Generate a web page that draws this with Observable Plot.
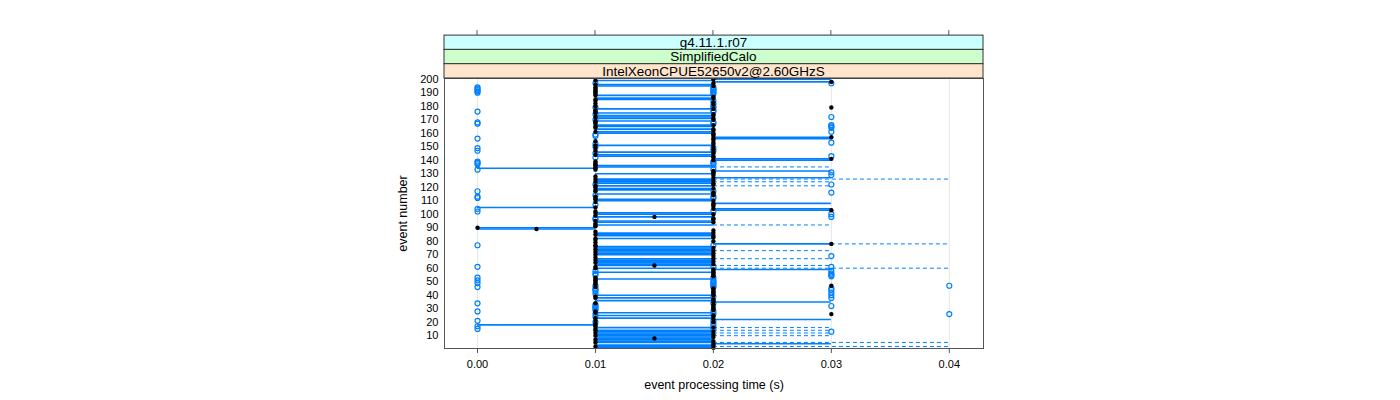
<!DOCTYPE html>
<html><head><meta charset="utf-8">
<script src="https://cdn.jsdelivr.net/npm/d3@7"></script>
<script src="https://cdn.jsdelivr.net/npm/@observablehq/plot@0.6"></script>
<style>body{margin:0;background:#fff} svg{font-family:"Liberation Sans",Arial,sans-serif}</style>
</head><body><div id="chart"></div>
<script>
// ---- labels / ticks
const stripLabels = ["g4.11.1.r07", "SimplifiedCalo", "IntelXeonCPUE52650v2@2.60GHzS"];
const stripColors = ["#ccffff", "#ccffcc", "#ffe5cc"];
const xTicks = [0, 0.01, 0.02, 0.03, 0.04];
const yTicks = [10, 20, 30, 40, 50, 60, 70, 80, 90, 100, 110, 120, 130, 140, 150, 160, 170, 180, 190, 200];
const eventCount = 200;

// ---- boxes (event numbers whose box spans the given interval, seconds)
const box_00_01 = [18, 89, 90, 105, 134];
const box_01_02 = [1,2,3,5,6,7,8,9,10,11,12,13,14,16,23,25,27,36,38,40,52,57,60,62,63,64,65,66,67,70,71,72,73,74,75,76,82,84,85,86,92,94,95,98,100,101,110,111,115,118,119,121,123,124,125,126,130,135,136,143,144,146,151,160,161,163,165,166,169,171,172,173,175,178,185,186,188,195,196,199];
const box_02_03 = [4,22,35,59,78,103,104,108,127,132,140,141,156,157,198,200];

// ---- whiskers (dashed)
const whisk_02_03 = [10,12,14,16,62,67,73,92,121,124,135];
const whisk_02_04 = [2,5,60,126];
const whisk_03_04 = [78];

// ---- medians (default 0.01)
const med_00 = [90];
const med_005 = [89];
const med_015 = [8, 62, 98];
const med_02 = [1,3,6,9,11,13,16,25,36,40,57,63,65,67,71,73,75,84,86,94,100,110,115,119,123,125,130,143,146,160,163,166,171,173,178,186,195,
  4,22,35,59,104,108,127,132,140,156,200,
  20,24,29,30,31,32,33,37,41,42,43,44,45,54,55,56,58,69,80,83,88,96,97,106,107,114,116,122,129,131,142,145,148,150,152,153,155,158,159,162,170,174,181,183,187,197];
const med_03 = [26,47,78,103,141,157,179,198];

// ---- outliers (open circles) by time value
const out_00 = [15,17,21,28,34,46,49,51,53,61,77,102,104,112,113,117,133,137,138,139,147,149,156,167,168,176,190,191,192,193,194];
const out_01 = [20,24,29,30,31,32,33,41,43,44,45,55,56,58,96,97,107,114,122,142,145,150,152,158,159,170,174,197,179,47,26];
const out_02 = [15,17,19,21,26,28,34,39,46,47,48,49,50,51,53,61,77,102,112,113,117,133,137,138,139,147,149,167,168,176,177,179,180,182,184,189,190,191,192,193,194];
const out_03 = [13,32,38,40,42,44,45,54,55,56,58,61,69,98,100,116,122,129,131,143,153,161,164,165,166,172,197];
const out_04 = [26, 47];

// ---- build tables
const blue = "#0080ff";
const boxes = [
  ...box_00_01.map(e => ({event: e, lo: 0, hi: 0.01})),
  ...box_01_02.map(e => ({event: e, lo: 0.01, hi: 0.02})),
  ...box_02_03.map(e => ({event: e, lo: 0.02, hi: 0.03}))
];
const whiskers = [
  ...whisk_02_03.map(e => ({event: e, lo: 0.02, hi: 0.03})),
  ...whisk_02_04.map(e => ({event: e, lo: 0.02, hi: 0.04})),
  ...whisk_03_04.map(e => ({event: e, lo: 0.03, hi: 0.04}))
];
const medMap = new Map();
for (const e of med_02) medMap.set(e, 0.02);
for (const e of med_00) medMap.set(e, 0);
for (const e of med_005) medMap.set(e, 0.005);
for (const e of med_015) medMap.set(e, 0.015);
for (const e of med_03) medMap.set(e, 0.03);
const medians = d3.range(1, eventCount + 1).map(e => ({event: e, t: medMap.has(e) ? medMap.get(e) : 0.01}));
const outliers = [
  ...out_00.map(e => ({event: e, t: 0})),
  ...out_01.map(e => ({event: e, t: 0.01})),
  ...out_02.map(e => ({event: e, t: 0.02})),
  ...out_03.map(e => ({event: e, t: 0.03})),
  ...out_04.map(e => ({event: e, t: 0.04}))
];

const plot = Plot.plot({
  width: 1400, height: 400,
  marginLeft: 444, marginRight: 417, marginTop: 78, marginBottom: 52,
  style: {fontSize: "11px", fontFamily: "Liberation Sans, Arial, sans-serif", background: "#fff"},
  x: {domain: [-0.0028, 0.0429]},
  y: {domain: [0.5, 200.5]},
  marks: [
    Plot.ruleX(xTicks, {stroke: "#e6e6e6"}),
    Plot.ruleY(whiskers, {y: "event", x1: "lo", x2: "hi", stroke: blue, strokeWidth: 1, strokeDasharray: "4,3"}),
    Plot.ruleY(boxes, {y: "event", x1: "lo", x2: "hi", stroke: blue, strokeWidth: 1.6}),
    Plot.dot(outliers, {x: "t", y: "event", r: 2.5, stroke: blue, strokeWidth: 1.2, fill: "none"}),
    Plot.dot(medians, {x: "t", y: "event", r: 2.2, fill: "black", stroke: "none"}),
    Plot.frame({stroke: "#555"}),
    Plot.axisX({ticks: xTicks, tickFormat: d3.format(".2f"), tickSize: 5, tickPadding: 7, stroke: "#555",
      label: "event processing time (s)", labelAnchor: "center", labelOffset: 40, labelArrow: "none"}),
    Plot.axisY({ticks: yTicks, tickSize: 0, tickPadding: 6,
      label: "event number", labelAnchor: "center", labelOffset: 46, labelArrow: "none"})
  ]
});
document.getElementById("chart").appendChild(plot);

// axis title size
const svg = d3.select(plot);
svg.selectAll('g[aria-label="x-axis label"], g[aria-label="y-axis label"]').attr("font-size", 12.5);

// strips and top ticks
const xs = plot.scale("x");
const left = 444, right = 983;
const stripH = 14.3, stripTop = 78 - 3 * stripH;
const g = svg.append("g");
stripLabels.forEach((lab, i) => {
  const y0 = stripTop + i * stripH;
  g.append("rect").attr("x", left).attr("y", y0).attr("width", right - left).attr("height", stripH)
    .attr("fill", stripColors[i]).attr("stroke", "#333").attr("stroke-width", 1);
  g.append("text").attr("x", (left + right) / 2).attr("y", y0 + stripH / 2 + 4.8)
    .attr("text-anchor", "middle").attr("font-size", 13.5).attr("fill", "#000").text(lab);
});
xTicks.forEach(t => {
  const x = xs.apply(t);
  g.append("line").attr("x1", x).attr("x2", x).attr("y1", stripTop).attr("y2", stripTop - 5).attr("stroke", "#555");
});
</script>
</body></html>
